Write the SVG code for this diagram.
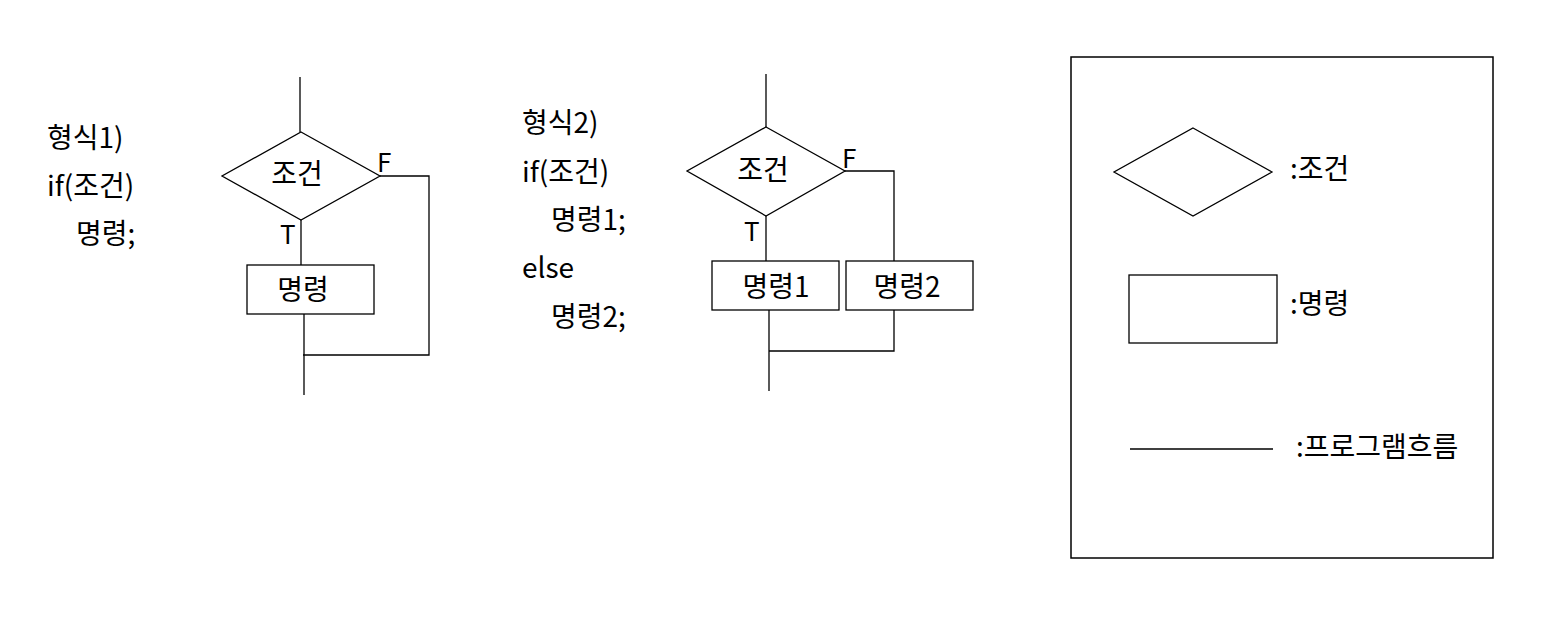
<svg xmlns="http://www.w3.org/2000/svg" width="1548" height="629" viewBox="0 0 1548 629">
<style>
text{font-family:"Noto Sans CJK KR","Noto Sans",sans-serif;fill:#000}
.t{font-size:28px}
.lb{font-size:26px}
.shape{fill:#fff;stroke:#000;stroke-width:1.3}
.ln{fill:none;stroke:#000;stroke-width:1.3}
</style>
<rect width="1548" height="629" fill="#fff"/>
<g id="code1">
<text class="t" x="47" y="148">형식1)</text>
<text class="t" x="47" y="196">if(조건)</text>
<text class="t" x="76" y="244">명령;</text>
</g>
<g id="code2">
<text class="t" x="522" y="133">형식2)</text>
<text class="t" x="522" y="182">if(조건)</text>
<text class="t" x="551" y="230">명령1;</text>
<text class="t" x="522" y="278">else</text>
<text class="t" x="551" y="327">명령2;</text>
</g>
<g id="connectors">
<polyline class="ln" points="300,77 300,132"/>
<polyline class="ln" points="301,220 301,265"/>
<polyline class="ln" points="304,314 304,395"/>
<polyline class="ln" points="380,176 429,176 429,355 303,355"/>
<polyline class="ln" points="766,74 766,127"/>
<polyline class="ln" points="766,216 766,261"/>
<polyline class="ln" points="845,171 894,171 894,261"/>
<polyline class="ln" points="894,310 894,351 769,351"/>
<polyline class="ln" points="769,310 769,391"/>
</g>
<g id="cond1">
<polygon class="shape" points="301,132 380,176 301,220 222,176"/>
<text class="t" x="297" y="184" text-anchor="middle">조건</text>
</g>
<text class="lb" x="377" y="172">F</text>
<text class="lb" x="280" y="244">T</text>
<g id="cmd1">
<rect class="shape" x="247" y="265" width="127" height="49"/>
<text class="t" x="303" y="300" text-anchor="middle">명령</text>
</g>
<g id="cond2">
<polygon class="shape" points="766,127 845,171 766,216 687,171"/>
<text class="t" x="763" y="180" text-anchor="middle">조건</text>
</g>
<text class="lb" x="842" y="168">F</text>
<text class="lb" x="744" y="241">T</text>
<g id="cmd2a">
<rect class="shape" x="712" y="261" width="127" height="49"/>
<text class="t" x="776" y="297" text-anchor="middle">명령1</text>
</g>
<g id="cmd2b">
<rect class="shape" x="846" y="261" width="127" height="49"/>
<text class="t" x="907" y="297" text-anchor="middle">명령2</text>
</g>
<g id="legend">
<rect x="1071" y="57" width="422" height="501" fill="none" stroke="#000" stroke-width="1.5"/>
<polygon class="shape" points="1193,128 1272,172 1193,216 1114,172"/>
<text class="t" x="1290" y="179">:조건</text>
<rect class="shape" x="1129" y="275" width="148" height="68"/>
<text class="t" x="1290" y="314">:명령</text>
<line x1="1130" y1="449" x2="1273" y2="449" stroke="#000" stroke-width="1.3"/>
<text class="t" x="1296" y="457">:프로그램흐름</text>
</g>
</svg>
